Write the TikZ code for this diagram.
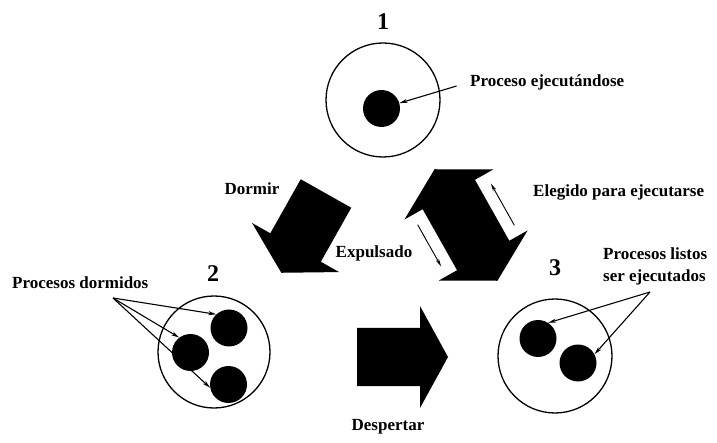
\documentclass[tikz,border=0pt]{standalone}
\usepackage{fontspec}
\setmainfont{Liberation Serif}
\usetikzlibrary{arrows.meta}

\newcommand\lblfont{\bfseries\fontsize{17}{22}\selectfont}
\newcommand\numfont{\bfseries\fontsize{24}{26}\selectfont}

\tikzset{
  ring/.style={draw, circle, line width=1.3pt, minimum size=114pt, inner sep=0pt},
  proc/.style={fill, circle, minimum size=37pt, inner sep=0pt},
  lbl/.style={font=\lblfont, inner sep=0pt},
  num/.style={font=\numfont, inner sep=0pt},
  pointer/.style={-{Stealth[length=8pt,width=4pt]}, line width=1.1pt},
  thinpointer/.style={-{Stealth[length=8pt,width=3.5pt]}, line width=0.9pt}
}

\begin{document}
\begin{tikzpicture}[x=1pt,y=-1pt]
\useasboundingbox (0,0) rectangle (717,443);

% the three states
\node[ring] (run) at (383,100) {};
\node[ring, minimum size=112pt] (sleep) at (214,352) {};
\node[ring] (ready) at (555,356) {};

\node[num] (n1) at (383,22) {1};
\node[num] (n2) at (213,274) {2};
\node[num] (n3) at (555,268) {3};

% processes
\node[proc] (p1) at (381.5,108.5) {};
\node[proc] (s1) at (229,328) {};
\node[proc] (s2) at (190.5,352.5) {};
\node[proc] (s3) at (228.5,384.5) {};
\node[proc] (r1) at (538,338.5) {};
\node[proc] (r2) at (578,363) {};

% labels
\node[lbl, anchor=west] (lblrun) at (470,82) {Proceso ejecutándose};
\node[lbl, anchor=west] (lblsleep) at (12,283) {Procesos dormidos};
\node[lbl, anchor=west, align=left] (lblready) at (603,266) {Procesos listos\\ser ejecutados};
\node[lbl] (lbldormir) at (252,189) {Dormir};
\node[lbl] (lblexp) at (374,253) {Expulsado};
\node[lbl, anchor=west] (lblelig) at (533,192) {Elegido para ejecutarse};
\node[lbl] (lbldesp) at (388,427) {Despertar};

% pointers to the processes
\coordinate (sleepfan) at (113,298);
\coordinate (readyfan) at (650,292);
\draw[pointer, shorten <=14pt] (lblrun.west) -- (p1);
\draw[pointer] (sleepfan) -- (s1.133);
\draw[pointer] (sleepfan) -- (s2.127);
\draw[pointer] (sleepfan) -- (s3.190);
\draw[pointer] (readyfan) -- (r1.57);
\draw[pointer] (readyfan) -- (r2.28);

% Dormir: 1 -> 2
\begin{scope}[shift={(326,193.5)}, rotate=240.6]
  \fill (0,-29) -- (62,-29) -- (62,-50) -- (91,0) -- (62,50) -- (62,29) -- (0,29) -- cycle;
\end{scope}

% Despertar: 2 -> 3
\begin{scope}[shift={(357,357)}]
  \fill (0,-29) -- (63,-29) -- (63,-51) -- (91,0) -- (63,51) -- (63,29) -- (0,29) -- cycle;
\end{scope}

% Expulsado / Elegido: 1 <-> 3
\begin{scope}[shift={(466,225)}, rotate=119.4]
  \fill (-35,-30) -- (35,-30) -- (35,-51) -- (64,0) -- (35,51) -- (35,30)
     -- (-35,30) -- (-35,51) -- (-64,0) -- (-35,-51) -- cycle;
  \coordinate (eleg-a) at (-24,42);
  \coordinate (eleg-b) at (24,42);
  \coordinate (exp-a) at (24,-42);
  \coordinate (exp-b) at (-24,-42);
  \draw[thinpointer] (eleg-a) -- (eleg-b);
  \draw[thinpointer] (exp-a) -- (exp-b);
\end{scope}
\end{tikzpicture}
\end{document}
